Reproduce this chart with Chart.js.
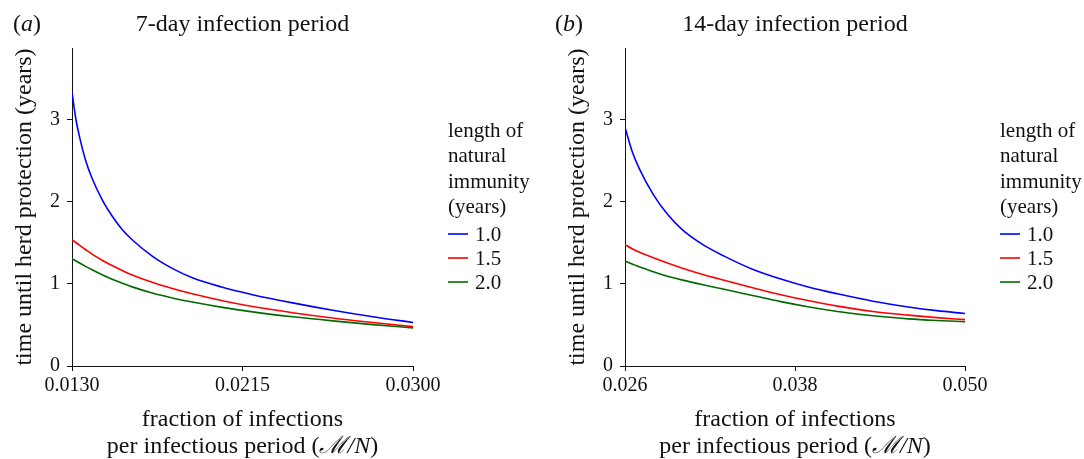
<!DOCTYPE html>
<html>
<head>
<meta charset="utf-8">
<script src="https://cdn.jsdelivr.net/npm/chart.js@4/dist/chart.umd.min.js"></script>
<style>
    html, body { margin: 0; padding: 0; background: #fff; }
    #wrap { position: relative; width: 1084px; height: 459px; }
    #wrap canvas { position: absolute; left: 0; top: 0; }
</style>
</head>
<body>
<div id="wrap">
    <canvas id="panelA" width="1084" height="459"></canvas>
    <canvas id="panelB" width="1084" height="459"></canvas>
</div>
<script>
// (a) 7-day infection period
const xA = [0.0130, 0.0132, 0.0134, 0.0137, 0.0140, 0.0145, 0.0150, 0.0155, 0.0160, 0.0170, 0.0180, 0.0190, 0.0205, 0.0220, 0.0240, 0.0260, 0.0280, 0.0300];
const blueA = [3.34, 3.00, 2.77, 2.49, 2.29, 2.03, 1.83, 1.665, 1.54, 1.34, 1.19, 1.075, 0.96, 0.87, 0.77, 0.68, 0.60, 0.53];
const redA = [1.54, 1.503, 1.467, 1.415, 1.365, 1.29, 1.225, 1.165, 1.11, 1.02, 0.945, 0.88, 0.795, 0.725, 0.65, 0.585, 0.53, 0.48];
const greenA = [1.31, 1.281, 1.253, 1.212, 1.173, 1.113, 1.058, 1.01, 0.965, 0.89, 0.83, 0.78, 0.715, 0.66, 0.60, 0.55, 0.505, 0.465];
const xTicksA = [0.0130, 0.0215, 0.0300];
const xTickLabelsA = ['0.0130', '0.0215', '0.0300'];

// (b) 14-day infection period
const xB = [0.0260, 0.0265, 0.0270, 0.0280, 0.0290, 0.0300, 0.0315, 0.0330, 0.0350, 0.0370, 0.0390, 0.0410, 0.0435, 0.0460, 0.0480, 0.0500];
const blueB = [2.91, 2.62, 2.41, 2.09, 1.85, 1.67, 1.48, 1.34, 1.18, 1.06, 0.96, 0.88, 0.79, 0.72, 0.675, 0.64];
const redB = [1.48, 1.43, 1.39, 1.32, 1.255, 1.195, 1.115, 1.045, 0.955, 0.87, 0.795, 0.73, 0.665, 0.62, 0.59, 0.565];
const greenB = [1.28, 1.245, 1.21, 1.15, 1.095, 1.05, 0.99, 0.935, 0.86, 0.785, 0.72, 0.665, 0.612, 0.575, 0.555, 0.54];
const xTicksB = [0.026, 0.038, 0.050];
const xTickLabelsB = ['0.026', '0.038', '0.050'];

const yTicks = [0, 1, 2, 3];
const immunityYears = ['1.0', '1.5', '2.0'];
const legendTitle = ['length of', 'natural', 'immunity', '(years)'];
const yTitle = 'time until herd protection (years)';
const xTitle1 = 'fraction of infections';
const xTitle2 = ['per infectious period (', '\u2133/N', ')'];

const SERIF = '"Liberation Serif", "Times New Roman", serif';
const lineColors = ['#0000ff', '#ff0000', '#006a00'];

// titles, axis titles and legend drawn as text on the canvas
const panelText = {
    id: 'panelText',
    afterDraw(chart, args, o) {
        const ctx = chart.ctx;
        const a = chart.chartArea;
        const cx = (a.left + a.right) / 2;
        ctx.save();
        ctx.fillStyle = '#111';
        ctx.textBaseline = 'alphabetic';

        // (a) / (b) with italic letter
        let x = o.letterX;
        ctx.textAlign = 'left';
        ctx.font = '24px ' + SERIF;
        ctx.fillText('(', x, 31);
        x += ctx.measureText('(').width;
        ctx.font = 'italic 24px ' + SERIF;
        ctx.fillText(o.letter, x, 31);
        x += ctx.measureText(o.letter).width;
        ctx.font = '24px ' + SERIF;
        ctx.fillText(')', x, 31);

        // panel title
        ctx.textAlign = 'center';
        ctx.fillText(o.title, cx, 31);

        // x title, two lines, second with italic M/N
        ctx.fillText(xTitle1, cx, 426);
        const fonts = ['24px ' + SERIF, 'italic 24px ' + SERIF, '24px ' + SERIF];
        let w = 0;
        xTitle2.forEach((t, i) => { ctx.font = fonts[i]; w += ctx.measureText(t).width; });
        x = cx - w / 2;
        ctx.textAlign = 'left';
        xTitle2.forEach((t, i) => {
            ctx.font = fonts[i];
            ctx.fillText(t, x, 453);
            x += ctx.measureText(t).width;
        });

        // y title
        ctx.save();
        ctx.translate(a.left - 47, (a.top + a.bottom) / 2);
        ctx.rotate(-Math.PI / 2);
        ctx.textAlign = 'center';
        ctx.textBaseline = 'middle';
        ctx.font = '24px ' + SERIF;
        ctx.fillText(yTitle, 0, 0);
        ctx.restore();

        // legend
        const lx = a.right + 35;
        ctx.font = '21px ' + SERIF;
        ctx.textAlign = 'left';
        ctx.textBaseline = 'middle';
        legendTitle.forEach((t, i) => ctx.fillText(t, lx, 131 + i * 25.5));
        chart.data.datasets.forEach((ds, i) => {
            const y = 234 + i * 24;
            ctx.strokeStyle = ds.borderColor;
            ctx.lineWidth = 1.6;
            ctx.beginPath();
            ctx.moveTo(lx, y);
            ctx.lineTo(lx + 20, y);
            ctx.stroke();
            ctx.fillText(ds.label, lx + 27, y + 1);
        });
        ctx.restore();
    }
};

// fixed scale boxes so the plot area lands where it is in the figure
function fixFit(size, horizontal) {
    return function(s) {
        if (horizontal) s.height = size; else s.width = size;
        s.paddingLeft = s.paddingRight = s.paddingTop = s.paddingBottom = 0;
    };
}

function makePanel(id, xs, series, xTicks, xLabels, area, letter, title, letterX) {
    const datasets = series.map((ys, i) => ({
        label: immunityYears[i],
        data: xs.map((x, j) => ({ x: x, y: ys[j] })),
        borderColor: lineColors[i],
        borderWidth: 1.6,
        pointRadius: 0,
        fill: false,
        cubicInterpolationMode: 'monotone'
    }));
    return new Chart(document.getElementById(id), {
        type: 'line',
        data: { datasets: datasets },
        options: {
            responsive: false,
            animation: false,
            events: [],
            layout: {
                autoPadding: false,
                padding: { left: 0, top: area.top, right: 1084 - area.right, bottom: 0 }
            },
            plugins: {
                legend: { display: false },
                tooltip: { enabled: false },
                panelText: { letter: letter, title: title, letterX: letterX }
            },
            scales: {
                x: {
                    type: 'linear',
                    min: xTicks[0],
                    max: xTicks[xTicks.length - 1],
                    afterFit: fixFit(459 - area.bottom, true),
                    afterBuildTicks: s => { s.ticks = xTicks.map(v => ({ value: v })); },
                    ticks: {
                        callback: (v, i) => xLabels[i],
                        font: { family: SERIF, size: 20 },
                        color: '#111',
                        padding: 3,
                        maxRotation: 0,
                        autoSkip: false
                    },
                    grid: { drawOnChartArea: false, drawTicks: true, tickLength: 5, color: '#111' },
                    border: { color: '#111', width: 1 }
                },
                y: {
                    min: 0,
                    max: 3.878,
                    afterFit: fixFit(area.left, false),
                    afterBuildTicks: s => { s.ticks = yTicks.map(v => ({ value: v })); },
                    ticks: {
                        font: { family: SERIF, size: 20 },
                        color: '#111',
                        padding: 7,
                        autoSkip: false
                    },
                    grid: { drawOnChartArea: false, drawTicks: true, tickLength: 5, color: '#111' },
                    border: { color: '#111', width: 1 }
                }
            }
        },
        plugins: [panelText]
    });
}

makePanel('panelA', xA, [blueA, redA, greenA], xTicksA, xTickLabelsA,
    { left: 72, top: 48, right: 413, bottom: 366 }, 'a', '7-day infection period', 13);
makePanel('panelB', xB, [blueB, redB, greenB], xTicksB, xTickLabelsB,
    { left: 625, top: 48, right: 965, bottom: 366 }, 'b', '14-day infection period', 555);
</script>
</body>
</html>
